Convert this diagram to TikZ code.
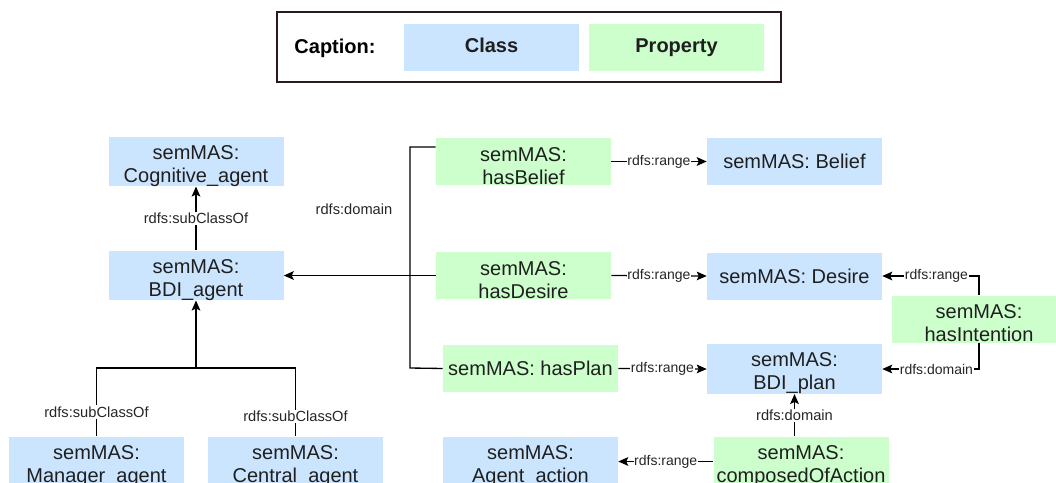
\documentclass[tikz,border=0pt]{standalone}
\usepackage{fontspec}
\setmainfont{Liberation Sans}
\usetikzlibrary{arrows.meta}
\definecolor{classblue}{RGB}{204,229,255}
\definecolor{propgreen}{RGB}{204,255,204}
\definecolor{framedark}{RGB}{45,25,25}
\newcommand{\twoline}[2]{\rule{0pt}{17pt}#1\\#2}

\begin{document}
\begin{tikzpicture}[x=0.75pt,y=-0.75pt,
		box/.style={minimum width=131.25pt,minimum height=35.25pt,inner sep=0pt,align=center,text=black!88,font=\fontsize{15}{17}\selectfont},
		class/.style={box,fill=classblue},
		prop/.style={box,fill=propgreen},
		capbox/.style={text height=11pt,text depth=3pt,font=\fontsize{15}{16}\selectfont\bfseries},
		link/.style={line width=1pt},
		arr/.style={link,-{Stealth[length=7.5pt,width=6.5pt,inset=1.5pt]}},
		lbl/.style={fill=white,inner sep=1pt,text=black!85,font=\fontsize{11}{12}\selectfont},
		rng/.style={fill=white,inner sep=0.5pt,text=black!85,font=\fontsize{10.5}{11}\selectfont}]
		\clip (0,0) rectangle (1056,482);
		
		% caption
		\draw[framedark, line width=1.5pt] (277,12) rectangle (781,82);
		\node[capbox] (captxt) at (335,48) {Caption:};
		\node[class,capbox] (capclass) at (491.5,47.5) {Class};
		\node[prop,capbox] (capprop) at (676.5,47.5) {Property};
		
		% classes
		\node[class] (cog) at (196,161.5) {\twoline{semMAS:}{Cognitive\_agent}};
		\node[class] (bdiag) at (196,275.5) {\twoline{semMAS:}{BDI\_agent}};
		\node[class] (mgr) at (96.5,461.5) {\twoline{semMAS:}{Manager\_agent}};
		\node[class] (central) at (295.5,461.5) {\twoline{semMAS:}{Central\_agent}};
		\node[class] (belief) at (794.5,161.5) {semMAS: Belief};
		\node[class] (desire) at (794.5,276) {semMAS: Desire};
		\node[class] (bdiplan) at (794.5,369) {\twoline{semMAS:}{BDI\_plan}};
		\node[class] (action) at (530.5,461.5) {\twoline{semMAS:}{Agent\_action}};
		
		% properties
		\node[prop] (hasbelief) at (523.5,161.5) {\twoline{semMAS:}{hasBelief}};
		\node[prop] (hasdesire) at (523.5,275.5) {\twoline{semMAS:}{hasDesire}};
		\node[prop] (hasplan) at (530.5,368.5) {semMAS: hasPlan};
		\node[prop] (hasintention) at (979,319) {\twoline{semMAS:}{hasIntention}};
		\node[prop] (composed) at (801,461.5) {\twoline{semMAS:}{composedOfAction}};
		
		% subclass tree
		\coordinate (fork) at (196,368);
		\draw[arr] (bdiag.north) -- node[lbl] {rdfs:subClassOf} (cog.south);
		\draw[arr] (fork) -- (bdiag.south);
		\draw[link] (mgr.north) -- node[lbl,pos=0.36] {rdfs:subClassOf} (mgr.north |- fork) -- (central.north |- fork) -- node[lbl,pos=0.71] {rdfs:subClassOf} (central.north);
		
		% domains
		\coordinate (bus) at (410,368);
		\draw[link] ([yshift=10.9pt]hasbelief.west) -| (bus) -- (hasplan.west);
		\draw[arr] (hasdesire.west) -- (bdiag.east);
		\node[lbl,fill=none] (domlbl) at (354,209) {rdfs:domain};
		\draw[arr] (hasintention.south) |- node[rng,pos=0.72] {rdfs:domain} (bdiplan.east);
		\draw[arr] (composed.north -| bdiplan.south) -- node[lbl] {rdfs:domain} (bdiplan.south);
		
		% ranges
		\draw[arr] (hasbelief.east) -- node[rng] {rdfs:range} (belief.west);
		\draw[arr] (hasdesire.east) -- node[rng] {rdfs:range} (desire.west);
		\draw[arr] (hasplan.east) -- node[rng] {rdfs:range} (bdiplan.west);
		\draw[arr] (hasintention.north) |- node[rng,pos=0.72] {rdfs:range} (desire.east);
		\draw[arr] (composed.west) -- node[rng] {rdfs:range} (action.east);
		
\end{tikzpicture}
\end{document}
